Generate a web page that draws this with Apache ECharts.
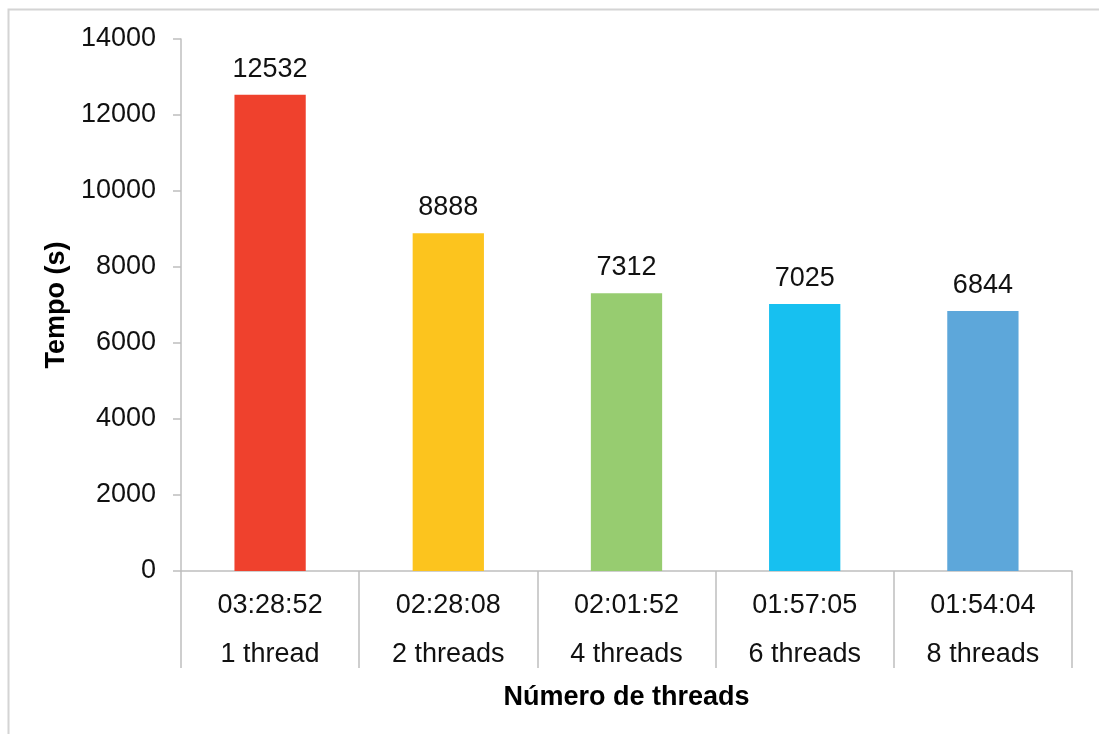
<!DOCTYPE html>
<html>
<head>
<meta charset="utf-8">
<script src="https://cdn.jsdelivr.net/npm/echarts@6/dist/echarts.min.js"></script>
<style>
  html, body { margin: 0; padding: 0; background: #fff; }
  #chart { width: 1099px; height: 734px; }
</style>
</head>
<body>
<div id="chart"></div>
<script>
// Execution time per thread count
const durations = ['03:28:52', '02:28:08', '02:01:52', '01:57:05', '01:54:04'];
const threadLabels = ['1 thread', '2 threads', '4 threads', '6 threads', '8 threads'];
const seconds = [12532, 8888, 7312, 7025, 6844];
const barColors = ['#EF412D', '#FCC41E', '#97CC70', '#17C0F0', '#5DA7DA'];

const categories = durations.map((d, i) => d + '\n' + threadLabels[i]);
const FONT = '"Liberation Sans", Arial, Helvetica, sans-serif';
const FS = 27;
const AXIS_GRAY = '#BFBFBF';

const chart = echarts.init(document.getElementById('chart'), null, { renderer: 'canvas' });

chart.setOption({
  backgroundColor: '#fff',
  animation: false,
  textStyle: { fontFamily: FONT },
  grid: { left: 181, right: 27, top: 39, bottom: 163, containLabel: false },
  graphic: [{
    type: 'polyline',
    shape: { points: [[8.5, 760], [8.5, 9.5], [1120, 9.5]] },
    style: { stroke: '#D4D4D4', lineWidth: 2, fill: null },
    silent: true
  }],
  xAxis: {
    type: 'category',
    data: categories,
    boundaryGap: true,
    name: 'Número de threads',
    nameLocation: 'middle',
    nameGap: 100,
    nameTextStyle: { fontFamily: FONT, fontSize: FS, fontWeight: 'bold', color: '#000' },
    axisLine: { show: true, lineStyle: { color: AXIS_GRAY, width: 1.5 } },
    axisTick: { show: true, length: 97, interval: 0, lineStyle: { color: AXIS_GRAY, width: 1.5 } },
    axisLabel: {
      interval: 0,
      margin: 10,
      fontFamily: FONT,
      fontSize: FS,
      lineHeight: 49,
      color: '#111'
    },
    splitLine: { show: false }
  },
  yAxis: {
    type: 'value',
    min: 0,
    max: 14000,
    interval: 2000,
    name: 'Tempo (s)',
    nameLocation: 'middle',
    nameGap: 97,
    nameRotate: 90,
    nameTextStyle: { fontFamily: FONT, fontSize: FS, fontWeight: 'bold', color: '#000' },
    axisLine: { show: true, lineStyle: { color: AXIS_GRAY, width: 1.5 } },
    axisTick: { show: true, length: 8, lineStyle: { color: AXIS_GRAY, width: 1.5 } },
    axisLabel: {
      margin: 25,
      fontFamily: FONT,
      fontSize: FS,
      color: '#111',
      formatter: (v) => String(v)
    },
    splitLine: { show: false }
  },
  series: [{
    type: 'bar',
    data: seconds.map((v, i) => ({ value: v, itemStyle: { color: barColors[i] } })),
    barWidth: '40%',
    label: {
      show: true,
      position: 'top',
      distance: 12,
      fontFamily: FONT,
      fontSize: FS,
      color: '#111'
    }
  }]
});
</script>
</body>
</html>
